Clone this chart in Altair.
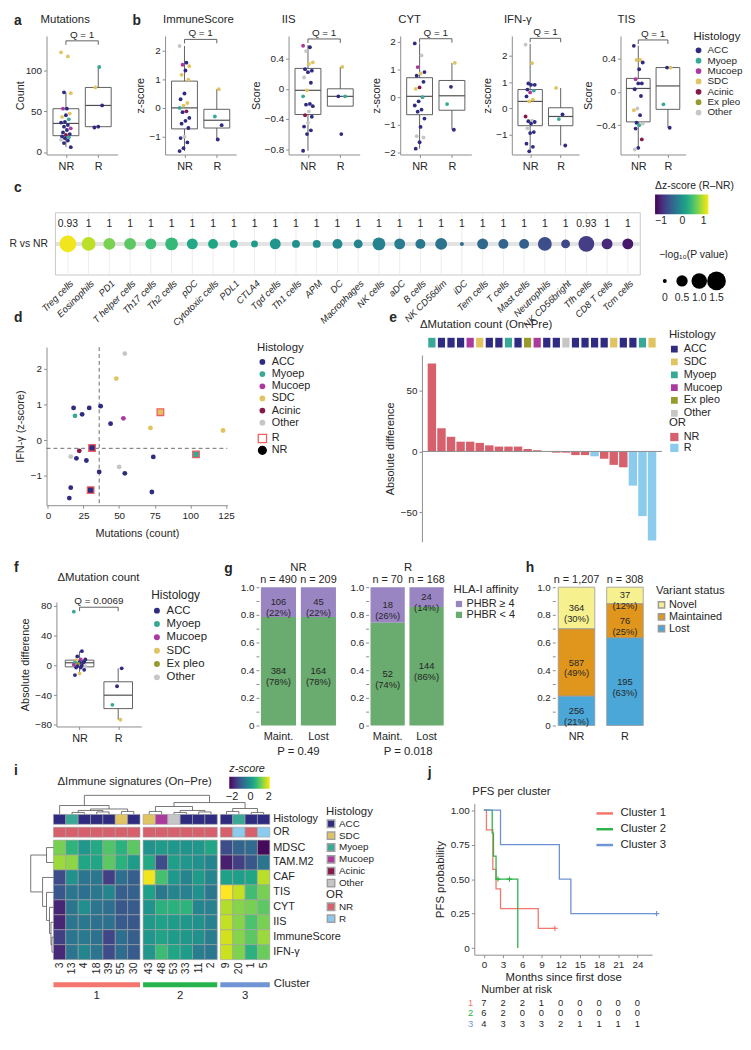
import altair as alt
import pandas as pd

FONT = "Liberation Sans"
INK = "#262626"
AXC = "#8c8c8c"
BOXC = "#4f4f4f"

HIST = ["ACC", "Myoep", "Mucoep", "SDC", "Acinic", "Ex pleo", "Other"]
HIST_COLORS = ["#2e2b80", "#3aa897", "#ab3a9e", "#e1c462", "#86194b", "#979a2d", "#c6c6c6"]
OR_CATS = ["NR", "R"]
OR_COLORS = ["#d7606d", "#8acbee"]

# ---------------- panel a / b : values per group ----------------
MUT_NR = [122, 117, 73, 72, 53, 53, 47, 45, 43, 40, 37, 36, 33, 31, 29, 27, 24, 22, 21, 19, 18, 17, 15, 14, 11, 6]
MUT_NR_H = ["SDC", "SDC", "ACC", "SDC", "ACC", "Mucoep", "SDC", "ACC", "SDC", "Myoep", "ACC", "ACC", "ACC", "ACC",
            "Mucoep", "ACC", "ACC", "ACC", "Acinic", "ACC", "Myoep", "ACC", "Other", "ACC", "ACC", "ACC"]
MUT_R = [104, 79, 57, 31, 30]
MUT_R_H = ["Myoep", "SDC", "ACC", "ACC", "ACC"]
MUT_BOX_NR = [6, 20, 35, 53, 73]
MUT_BOX_R = [30, 31, 57, 79, 104]

IMM_NR = [2.15, 1.57, 1.5, 1.45, 1.3, 1.15, 0.98, 0.5, 0.3, 0.17, 0.08, 0.0, -0.12, -0.15, -0.35, -0.45, -0.55, -0.7,
          -1.0, -1.05, -1.2, -1.4, -1.5]
IMM_NR_H = ["Other", "ACC", "Mucoep", "SDC", "ACC", "SDC", "SDC", "ACC", "ACC", "SDC", "SDC", "Myoep", "Acinic", "ACC",
            "ACC", "ACC", "ACC", "ACC", "Other", "ACC", "ACC", "ACC", "ACC"]
IMM_R = [0.65, -0.3, -0.6, -1.1]
IMM_R_H = ["SDC", "Myoep", "ACC", "ACC"]
IMM_BOX_NR = [-1.5, -0.73, 0.0, 0.93, 2.15]
IMM_BOX_R = [-1.1, -0.7, -0.43, -0.05, 0.65]

IIS_NR = [0.57, 0.55, 0.5, 0.35, 0.33, 0.26, 0.24, 0.22, 0.15, 0.08, -0.02, -0.1, -0.2, -0.21, -0.23, -0.3, -0.35,
          -0.37, -0.45, -0.5, -0.55, -0.6, -0.82]
IIS_NR_H = ["Mucoep", "ACC", "Other", "SDC", "SDC", "ACC", "ACC", "ACC", "Other", "ACC", "SDC", "Myoep", "ACC", "ACC",
            "ACC", "Other", "Acinic", "ACC", "Other", "ACC", "ACC", "ACC", "ACC"]
IIS_R = [0.29, -0.1, -0.1, -0.6]
IIS_R_H = ["SDC", "ACC", "Myoep", "ACC"]
IIS_BOX_NR = [-0.82, -0.34, -0.02, 0.27, 0.58]
IIS_BOX_R = [-0.23, -0.23, -0.1, 0.0, 0.29]

CYT_NR = [1.93, 1.5, 1.08, 0.9, 0.85, 0.77, 0.55, 0.35, 0.3, 0.0, -0.15, -0.3, -0.45, -0.52, -0.77, -1.07, -1.4, -1.45,
          -1.62, -1.85]
CYT_NR_H = ["ACC", "Other", "Mucoep", "ACC", "SDC", "ACC", "ACC", "Acinic", "SDC", "Myoep", "ACC", "ACC", "ACC", "ACC",
            "ACC", "ACC", "Other", "Other", "ACC", "ACC"]
CYT_R = [1.23, 0.37, -0.25, -1.17]
CYT_R_H = ["SDC", "ACC", "Myoep", "ACC"]
CYT_BOX_NR = [-1.85, -0.63, 0.03, 0.7, 1.93]
CYT_BOX_R = [-1.17, -0.47, 0.05, 0.6, 1.23]

IFN_NR = [2.42, 1.72, 0.95, 0.9, 0.9, 0.72, 0.68, 0.61, 0.46, 0.34, 0.27, -0.3, -0.46, -0.48, -0.51, -0.57, -0.75,
          -0.89, -0.93, -1.33, -1.45, -1.62]
IFN_NR_H = ["Other", "SDC", "ACC", "ACC", "ACC", "ACC", "Myoep", "Mucoep", "ACC", "SDC", "SDC", "Acinic", "Other", "ACC",
            "ACC", "ACC", "Other", "ACC", "ACC", "ACC", "ACC", "ACC"]
IFN_R = [0.78, -0.22, -0.4, -1.4]
IFN_R_H = ["SDC", "ACC", "Myoep", "ACC"]
IFN_BOX_NR = [-1.62, -0.65, 0.27, 0.72, 2.45]
IFN_BOX_R = [-1.4, -0.65, -0.3, 0.03, 0.78]

TIS_NR = [0.55, 0.38, 0.38, 0.35, 0.27, 0.15, 0.1, 0.1, 0.03, -0.05, -0.2, -0.22, -0.28, -0.37, -0.38, -0.4, -0.44,
          -0.57, -0.67, -0.69]
TIS_NR_H = ["ACC", "SDC", "SDC", "ACC", "ACC", "Mucoep", "ACC", "ACC", "ACC", "ACC", "Other", "SDC", "ACC", "ACC",
            "Other", "Myoep", "ACC", "Acinic", "ACC", "Other"]
TIS_R = [0.29, 0.29, -0.15, -0.43]
TIS_R_H = ["SDC", "ACC", "Myoep", "ACC"]
TIS_BOX_NR = [-0.69, -0.36, 0.04, 0.16, 0.55]
TIS_BOX_R = [-0.43, -0.21, 0.07, 0.29, 0.29]

# ---------------- panel c ----------------
C_CELLS = ["Treg cells", "Eosinophils", "PD1", "T helper cells", "Th17 cells", "Th2 cells", "pDC", "Cytotoxic cells",
           "PDL1", "CTLA4", "Tgd cells", "Th1 cells", "APM", "DC", "Macrophages", "NK cells", "aDC", "B cells",
           "NK CD56dim", "iDC", "Tem cells", "T cells", "Mast cells", "Neutrophils", "NK CD56bright", "Tfh cells",
           "CD8 T cells", "Tcm cells"]
C_DZ = [1.18, 0.98, 0.73, 0.6, 0.45, 0.4, 0.23, 0.2, 0.13, 0.1, 0.03, -0.03, -0.05, -0.1, -0.15, -0.18, -0.23, -0.28,
        -0.33, -0.38, -0.43, -0.48, -0.53, -0.7, -0.75, -0.83, -0.98, -1.13]
C_NLP = [1.19, 0.78, 0.56, 0.56, 0.46, 0.66, 0.46, 0.37, 0.21, 0.14, 0.46, 0.21, 0.21, 0.37, 0.28, 0.66, 0.46, 0.37,
         0.56, 0.0, 0.46, 0.37, 0.37, 0.78, 0.28, 1.04, 0.46, 0.46]
C_Q = ["0.93"] + ["1"] * 24 + ["0.93", "1", "1"]
SIZE_LEGEND = [0, 0.5, 1.0, 1.5]

# ---------------- panel d ----------------
D_MUT = [18, 24, 29, 37, 44, 20, 27, 36, 16, 15, 54, 73, 74, 19, 53, 48, 72, 123, 22, 54, 16, 50, 31, 30, 79, 104]
D_IFN = [0.9, 0.72, 0.9, 0.95, 0.46, -0.51, -0.57, -0.89, -1.33, -1.62, -0.93, -1.45, -0.47, 0.68, 0.61, 1.72, 0.34,
         0.27, -0.3, 2.42, -0.46, -0.75, -0.22, -1.4, 0.78, -0.4]
D_HIST = ["ACC"] * 13 + ["Myoep", "Mucoep", "SDC", "SDC", "SDC", "Acinic", "Other", "Other", "Other", "ACC", "ACC",
                         "SDC", "Myoep"]
D_OR = ["NR"] * 22 + ["R"] * 4
D_CUT_X = 36
D_CUT_Y = -0.23

# ---------------- panel e / f ----------------
E_VAL = [72, 19, 12, 8, 8, 7, 5, 4, 4, 4, 2, 1, 0, -1, -1, -3, -3, -4, -6, -11, -13, -28, -53, -73]
E_OR = ["NR"] * 17 + ["R"] + ["NR"] * 3 + ["R"] * 3
E_HIST = ["Myoep", "ACC", "ACC", "ACC", "Mucoep", "SDC", "ACC", "ACC", "Myoep", "ACC", "Ex pleo", "Mucoep", "ACC",
          "ACC", "Other", "ACC", "ACC", "ACC", "ACC", "SDC", "ACC", "ACC", "Myoep", "SDC"]
F_BOX_NR = [-13, -2, 3.5, 7, 19]
F_BOX_R = [-73, -58, -40, -22, -4]

# ---------------- panel g / h ----------------
G_GROUP = ["NR", "NR", "R", "R"]
G_STATUS = ["Maint.", "Lost", "Maint.", "Lost"]
G_CLASSES = ["PHBR ≥ 4", "PHBR < 4"]
G_HIGH = [106, 45, 18, 24]
G_LOW = [384, 164, 52, 144]
G_P = ["P = 0.49", "P = 0.018"]
H_CLASSES = ["Novel", "Maintained", "Lost"]
H_NR = [364, 587, 256]
H_R = [37, 76, 195]

# ---------------- panel i ----------------
I_COLS = ["3", "13", "4", "18", "39", "55", "30", "43", "48", "53", "33", "11", "2", "9", "20", "1", "5"]
I_CLUSTER = [1] * 7 + [2] * 6 + [3] * 4
I_HIST = ["ACC", "Myoep", "ACC", "ACC", "ACC", "SDC", "ACC", "SDC", "Mucoep", "Other", "ACC", "ACC", "ACC", "ACC",
          "Myoep", "ACC", "ACC"]
I_OR = ["NR"] * 13 + ["NR", "R", "NR", "R"]
I_ROWS = ["MDSC", "TAM.M2", "CAF", "TIS", "CYT", "IIS", "ImmuneScore", "IFN-γ"]
I_Z = {
    "MDSC": [1.2, 0.55, 0.0, 0.35, 0.9, 0.5, 1.0, -0.05, 0.1, 0.05, -0.05, 0.0, 0.3, -1.3, -0.9, -0.8, -2.2],
    "TAM.M2": [1.45, 1.35, 0.3, 0.3, 1.0, 0.5, 0.1, 0.35, -1.3, 0.15, 0.0, -0.1, -0.3, -1.95, -1.5, -1.1, -0.6],
    "CAF": [-1.3, -0.1, -0.6, -0.55, -1.5, -0.7, -1.0, 2.0, 0.8, 0.07, -0.3, 0.1, -0.3, 0.2, 0.15, 0.3, 1.65],
    "TIS": [-1.1, -0.6, -0.7, -0.55, -0.3, -1.0, -0.95, 0.2, -0.55, -0.3, -0.4, -0.1, -0.55, 2.1, 1.7, 0.75, 1.2],
    "CYT": [-1.85, -0.6, -0.15, -0.6, -0.7, -1.1, -1.05, -0.05, 0.5, 0.5, 0.55, -0.3, -0.4, 1.6, 1.3, 1.2, 1.0],
    "IIS": [-1.85, -0.6, -0.55, -0.65, -0.65, -1.05, -1.1, 0.07, 0.2, 0.1, 0.05, -0.1, -0.4, 1.7, 1.3, 0.85, 1.2],
    "ImmuneScore": [-1.5, -0.6, -0.5, -0.65, -1.4, -0.7, -1.0, 0.0, 0.25, 0.1, 0.05, -0.1, -0.45, 1.8, 1.3, 1.0, 1.45],
    "IFN-γ": [-1.8, -0.6, -0.3, -0.6, -1.3, -0.75, -1.05, 0.0, 0.7, 0.3, 0.1, -0.45, -0.55, 1.75, 1.25, 0.5, 1.1],
}
# dendrogram merges: (child a, child b, height, new node)
I_COL_MERGES = [("13", "4", 2, "a1"), ("18", "39", 2.5, "a2"), ("a1", "a2", 4, "a3"), ("55", "30", 3, "a4"),
                ("a3", "a4", 5.5, "a5"), ("3", "a5", 9, "A"),
                ("43", "48", 3, "b1"), ("53", "33", 2, "b2"), ("11", "2", 2.5, "b3"), ("b2", "b3", 4, "b4"),
                ("b1", "b4", 8, "B"),
                ("9", "20", 3, "c1"), ("1", "5", 2, "c2"), ("c1", "c2", 6, "C"),
                ("B", "C", 12, "BC"), ("A", "BC", 19.3, "root")]
I_ROW_MERGES = [("ImmuneScore", "IFN-γ", 1.5, "r1"), ("IIS", "r1", 2.5, "r2"), ("CYT", "r2", 4, "r3"),
                ("TIS", "r3", 7, "r4"), ("CAF", "r4", 11, "r5"), ("MDSC", "TAM.M2", 7, "r6"),
                ("r6", "r5", 23, "root")]
CL_NAMES = ["1", "2", "3"]
CL_COLORS = ["#f3776e", "#27b34b", "#7195d4"]

# ---------------- panel j ----------------
KM_NAMES = ["Cluster 1", "Cluster 2", "Cluster 3"]
KM_COLORS = ["#f4766d", "#2db34a", "#7092d2"]
KM1_T = [0, 0.4, 1.4, 1.9, 2.6, 8.5, 11.1]
KM1_S = [1, 0.857, 0.571, 0.429, 0.286, 0.143, 0.143]
KM2_T = [0, 1.3, 1.5, 1.9, 5.3]
KM2_S = [1, 0.833, 0.667, 0.5, 0.0]
KM3_T = [0, 2.6, 11.8, 13.6, 27.0]
KM3_S = [1, 0.75, 0.5, 0.25, 0.25]
CEN_T = [11.1, 2.2, 4.0, 27.0]
CEN_S = [0.143, 0.5, 0.5, 0.25]
CEN_CL = ["Cluster 1", "Cluster 2", "Cluster 2", "Cluster 3"]
RISK_T = [0, 3, 6, 9, 12, 15, 18, 21, 24]
RISK_1 = [7, 2, 2, 1, 0, 0, 0, 0, 0]
RISK_2 = [6, 2, 0, 0, 0, 0, 0, 0, 0]
RISK_3 = [4, 3, 3, 3, 2, 1, 1, 1, 1]

# =====================================================================
# One canvas; every panel is a layer with its own scales whose pixel ranges place it.
O = 8             # page margin
W, H = 700, 1000  # reference frame for axis offsets (kept inside the content)
ONE = pd.DataFrame({"k": [0]})


def XR(x, w):
    return [x - O, x + w - O]


def YR(y, h):       # continuous: bottom -> top
    return [y + h - O, y - O]


def YB(y, h):       # band / top -> bottom
    return [y - O, y + h - O]


def offL(x):
    return -(x - O)


def offB(y, h):
    return (y + h - O) - H


def offR(x, w):
    return (x + w - O) - W


def PX(v):
    return alt.value(v - O)


def T(s, px, py, size=10, weight="normal", align="left", baseline="middle", color=INK, style="normal"):
    return alt.Chart(ONE).mark_text(text=s, fontSize=size, fontWeight=weight, align=align, baseline=baseline,
                                    color=color, font=FONT, fontStyle=style).encode(x=PX(px), y=PX(py))


def LET(s, px, py):
    return T(s, px, py, size=14, weight="bold", baseline="top")


def hist_scale():
    return alt.Scale(domain=HIST, range=HIST_COLORS)


def leg(title, px, py, **kw):
    base = dict(orient="none", legendX=px - O, legendY=py - O, title=title, titleFontSize=11, labelFontSize=10.5,
                titlePadding=3, labelOffset=4)
    base.update(kw)
    return alt.Legend(**base)


def box_panel(x, y, w, h, nr, nr_h, r, r_h, st_nr, st_r, domain, ticks, ytitle, qy, qlab, legend=None, half=0.4,
              tpad=3):
    pts = pd.DataFrame({"grp": ["NR"] * len(nr) + ["R"] * len(r), "v": list(nr) + list(r),
                        "h": list(nr_h) + list(r_h)})
    pts["i"] = list(range(len(pts)))
    st = pd.DataFrame({"grp": ["NR", "R"], "lo": [st_nr[0], st_r[0]], "q1": [st_nr[1], st_r[1]],
                       "med": [st_nr[2], st_r[2]], "q3": [st_nr[3], st_r[3]], "hi": [st_nr[4], st_r[4]]})
    xs = alt.Scale(domain=[0.4, 2.6], range=XR(x, w), nice=False, zero=False)
    ys = alt.Scale(domain=domain, range=YR(y, h), nice=False, zero=False)
    xax = alt.Axis(values=[1, 2], labelExpr="datum.value == 1 ? 'NR' : 'R'", title=None, labelFontSize=11,
                   labelPadding=3, orient="bottom", offset=offB(y, h))
    yax = alt.Axis(values=ticks, format="~r", title=ytitle, titlePadding=tpad, titleFontSize=11, orient="left",
                   offset=offL(x))

    def X(f):
        return alt.X(f, scale=xs, axis=xax)

    def Y(f):
        return alt.Y(f, scale=ys, axis=yax)

    sb = alt.Chart(st).transform_calculate(pos="datum.grp == 'NR' ? 1 : 2").transform_calculate(
        x0="datum.pos - %g" % half, x1="datum.pos + %g" % half)
    whisk = sb.mark_rule(color=BOXC, strokeWidth=0.9).encode(x=X("pos:Q"), y=Y("lo:Q"), y2="hi:Q")
    box = sb.mark_rect(fill="white", stroke=BOXC, strokeWidth=0.9).encode(x=X("x0:Q"), x2="x1:Q", y=Y("q1:Q"),
                                                                         y2="q3:Q")
    med = sb.mark_rule(color=BOXC, strokeWidth=1.2).encode(x=X("x0:Q"), x2="x1:Q", y=Y("med:Q"))
    dots = alt.Chart(pts).transform_calculate(
        xj="(datum.grp == 'NR' ? 1 : 2) + ((datum.i * 7) % 11 - 5) * 0.03").mark_circle(size=15, opacity=1).encode(
        x=X("xj:Q"), y=Y("v:Q"), color=alt.Color("h:N", scale=hist_scale(), legend=legend))
    legl = 4.0 * (domain[1] - domain[0]) / h
    bk = pd.DataFrame({"a": [1.0], "b": [2.0], "y": [qy], "y2": [qy - legl], "t": [qlab]})
    bb = alt.Chart(bk)
    brk = bb.mark_rule(color=BOXC, strokeWidth=0.9).encode(x=X("a:Q"), x2="b:Q", y=Y("y:Q"))
    l1 = bb.mark_rule(color=BOXC, strokeWidth=0.9).encode(x=X("a:Q"), y=Y("y:Q"), y2="y2:Q")
    l2 = bb.mark_rule(color=BOXC, strokeWidth=0.9).encode(x=X("b:Q"), y=Y("y:Q"), y2="y2:Q")
    qt = bb.transform_calculate(m="(datum.a + datum.b) / 2").mark_text(dy=-6, fontSize=10, color=INK).encode(
        x=X("m:Q"), y=Y("y:Q"), text="t:N")
    return alt.layer(whisk, box, med, dots, brk, l1, l2, qt)


PANELS = []
NOTES = []

# ======================= ROW 1 =======================
R1Y, R1H = 30, 120
TTY = 14
PA = (42, 72)
PANELS.append(box_panel(PA[0], R1Y, PA[1], R1H, MUT_NR, MUT_NR_H, MUT_R, MUT_R_H, MUT_BOX_NR, MUT_BOX_R, [-3, 142],
                        [0, 50, 100], "Count", 136, "Q = 1", tpad=0))
NOTES += [LET("a", 9, 8), T("Mutations", 36, TTY, size=11.5), LET("b", 129, 8)]
PB = [(162, 72), (287, 72), (400, 72), (513, 68), (623, 66)]
b_specs = [
    ("ImmuneScore", "z-score", IMM_NR, IMM_NR_H, IMM_R, IMM_R_H, IMM_BOX_NR, IMM_BOX_R, [-1.62, 2.5], [-1, 0, 1, 2],
     2.38),
    ("IIS", "Score", IIS_NR, IIS_NR_H, IIS_R, IIS_R_H, IIS_BOX_NR, IIS_BOX_R, [-0.87, 0.7], [-0.8, -0.4, 0, 0.4], 0.66),
    ("CYT", "z-score", CYT_NR, CYT_NR_H, CYT_R, CYT_R_H, CYT_BOX_NR, CYT_BOX_R, [-2.06, 2.2], [-2, -1, 0, 1, 2], 2.1),
    ("IFN-γ", "z-score", IFN_NR, IFN_NR_H, IFN_R, IFN_R_H, IFN_BOX_NR, IFN_BOX_R, [-1.74, 2.75], [-1, 0, 1, 2], 2.66),
    ("TIS", "Score", TIS_NR, TIS_NR_H, TIS_R, TIS_R_H, TIS_BOX_NR, TIS_BOX_R, [-0.75, 0.668], [-0.4, 0, 0.4], 0.62),
]
title_x = [160, 280, 398, 505, 620]
for k, (ttl, yt, nr, nrh, r, rh, bnr, br, dom, tk, qy) in enumerate(b_specs):
    ox, w = PB[k]
    lg = None
    if k == 4:
        lg = leg("Histology", 697, 25, symbolType="circle", symbolSize=34, rowPadding=0.5, labelFontSize=10,
                 titleFontSize=11.5)
    PANELS.append(box_panel(ox, R1Y, w, R1H, nr, nrh, r, rh, bnr, br, dom, tk, yt, qy, "Q = 1", legend=lg))
    NOTES.append(T(ttl, title_x[k], TTY, size=11.5))

# ======================= ROW 2 (c) =======================
CX, CY, CW, CH = 51, 209, 592, 63
cdf = pd.DataFrame({"cell": C_CELLS, "dz": C_DZ, "nlp": C_NLP, "q": C_Q})
cdf["lab"] = "R vs NR"
XC = alt.X("cell:N", scale=alt.Scale(type="point", padding=0.6, domain=C_CELLS, range=XR(CX, CW)),
           axis=alt.Axis(title=None, labelAngle=-45, labelFontStyle="italic", labelFontSize=9.5, ticks=False,
                         domain=False, labelPadding=3, orient="bottom", offset=offB(CY, CH)))
YC = alt.Y("lab:N", scale=alt.Scale(type="point", domain=["R vs NR"], range=YB(CY, CH), padding=0.5),
           axis=alt.Axis(title=None, ticks=False, domain=False, labelFontSize=10.5, labelPadding=8, orient="left",
                         offset=offL(CX)))
cbase = alt.Chart(cdf)
c_frame = alt.Chart(ONE).mark_rect(fill="white", stroke="#c8c8c8", strokeWidth=1).encode(
    x=PX(CX), x2=PX(CX + CW), y=PX(CY), y2=PX(CY + CH))
c_grid = cbase.mark_rule(color="#ededed", strokeWidth=1).encode(x=XC, y=PX(CY + 1), y2=PX(CY + CH - 1))
c_band = cbase.mark_rule(color="#e3e3e3", strokeWidth=3).encode(y=YC, x=PX(CX + 1), x2=PX(CX + CW - 1))
c_dots = cbase.mark_circle(opacity=1).encode(
    x=XC, y=YC,
    color=alt.Color("dz:Q", scale=alt.Scale(scheme="viridis", domain=[-1.28, 1.23]),
                    legend=leg("Δz-score (R–NR)", 658, 177, direction="horizontal", gradientLength=54,
                               gradientThickness=20, values=[-1, 0, 1], titleFontSize=10.5, labelOffset=2)),
    size=alt.Size("nlp:Q", scale=alt.Scale(domain=[0, 1.5], range=[16, 361], zero=False), legend=None))
c_q = cbase.mark_text(dy=-20, fontSize=10.5, color=INK).encode(x=XC, y=YC, text="q:N")
PANELS.append(alt.layer(c_frame, c_grid, c_band, c_dots, c_q))
NOTES.append(LET("c", 9, 177))

sdf = pd.DataFrame({"v": SIZE_LEGEND})
SX = alt.X("v:O", scale=alt.Scale(type="point", padding=0.22, range=XR(664, 60)), axis=None)
s_dots = alt.Chart(sdf).mark_circle(color="black", opacity=1).encode(
    x=SX, y=PX(278), size=alt.Size("v:Q", scale=alt.Scale(domain=[0, 1.5], range=[16, 361], zero=False),
                                   legend=None))
s_txt = alt.Chart(sdf).transform_calculate(
    lab="datum.v == 0 ? '0' : format(datum.v, '.1f')").mark_text(fontSize=10.5, color=INK).encode(
    x=SX, y=PX(295), text="lab:N")
PANELS.append(alt.layer(s_dots, s_txt))
NOTES.append(T("−log₁₀(P value)", 662, 252, size=10.5))

# ======================= ROW 3 (d, e) =======================
DX, DY, DW, DH = 42, 345, 183, 160
ddf = pd.DataFrame({"m": D_MUT, "ifn": D_IFN, "h": D_HIST, "resp": D_OR})
dxs = alt.Scale(domain=[-1, 126], range=XR(DX, DW), nice=False, zero=False)
dys = alt.Scale(domain=[-1.82, 2.6], range=YR(DY, DH), nice=False, zero=False)
dxa = alt.Axis(values=[0, 25, 50, 75, 100, 125], title="Mutations (count)", titlePadding=8, titleFontSize=11,
               orient="bottom", offset=offB(DY, DH))
dya = alt.Axis(values=[-1, 0, 1, 2], title="IFN-γ (z-score)", titlePadding=5, titleFontSize=11, orient="left",
               offset=offL(DX))
DXE = alt.X("m:Q", scale=dxs, axis=dxa)
DYE = alt.Y("ifn:Q", scale=dys, axis=dya)
d_v = alt.Chart(ONE).mark_rule(color="#6e6e6e", strokeDash=[4, 3], strokeWidth=1).encode(
    x=alt.X(datum=D_CUT_X, scale=dxs, axis=dxa), y=PX(DY), y2=PX(DY + DH))
d_h = alt.Chart(ONE).mark_rule(color="#6e6e6e", strokeDash=[4, 3], strokeWidth=1).encode(
    y=alt.Y(datum=D_CUT_Y, scale=dys, axis=dya), x=PX(DX), x2=PX(DX + DW))
d_nr = alt.Chart(ddf).transform_filter("datum.resp == 'NR'").mark_point(filled=True, size=24, opacity=1).encode(
    x=DXE, y=DYE,
    color=alt.Color("h:N", scale=hist_scale(),
                    legend=leg("Histology", 255, 340, symbolType="circle", symbolSize=34, rowPadding=0.3,
                               labelFontSize=11, titleFontSize=11.5,
                               values=["ACC", "Myoep", "Mucoep", "SDC", "Acinic", "Other"])),
    shape=alt.Shape("resp:N", scale=alt.Scale(domain=["NR"], range=["circle"]),
                    legend=leg(None, 255, 444, symbolFillColor="black", symbolStrokeColor="black", symbolSize=60,
                               labelFontSize=11)))
d_r = alt.Chart(ddf).transform_filter("datum.resp == 'R'").mark_point(
    filled=True, size=44, opacity=1, stroke="#f0605d", strokeWidth=1.3).encode(
    x=DXE, y=DYE, fill=alt.Fill("h:N", scale=hist_scale(), legend=None),
    shape=alt.Shape("resp:N", scale=alt.Scale(domain=["R"], range=["square"]),
                    legend=leg(None, 255, 432, symbolFillColor="white", symbolStrokeColor="#f0605d",
                               symbolStrokeWidth=1.3, symbolSize=70, labelFontSize=11)))
PANELS.append(alt.layer(d_v, d_h, d_nr, d_r).resolve_scale(shape="independent"))
NOTES.append(LET("d", 9, 309))

EX, EY, EW, EBY, EBH = 422, 335, 243, 353, 189
edf = pd.DataFrame({"idx": list(range(len(E_VAL))), "val": E_VAL, "resp": E_OR, "h": E_HIST})
XE = alt.X("idx:O", scale=alt.Scale(paddingInner=0.12, paddingOuter=0.6, range=XR(EX, EW)), axis=None)
e_strip = alt.Chart(edf).mark_rect(stroke="white", strokeWidth=1.2).encode(
    x=XE, y=PX(EY), y2=PX(EY + 11),
    fill=alt.Fill("h:N", scale=hist_scale(),
                  legend=leg("Histology", 672, 327, symbolType="square", symbolSize=70, rowPadding=-3.5,
                             labelFontSize=11, titleFontSize=11.5,
                             values=["ACC", "SDC", "Myoep", "Mucoep", "Ex pleo", "Other"])))
PANELS.append(e_strip)
eys = alt.Scale(domain=[-74, 79], range=YR(EBY, EBH), nice=False, zero=False)
eya = alt.Axis(values=[-50, 0, 50], title="Absolute difference", titlePadding=5, titleFontSize=11, orient="left",
               offset=offL(EX))
e_bars = alt.Chart(edf).mark_bar().encode(
    x=XE, y=alt.Y("val:Q", scale=eys, axis=eya),
    color=alt.Color("resp:N", scale=alt.Scale(domain=OR_CATS, range=OR_COLORS),
                    legend=leg("OR", 672, 416, symbolType="square", symbolSize=70, rowPadding=-3.5,
                               labelFontSize=11, titleFontSize=11.5)))
e_zero = alt.Chart(ONE).mark_rule(color=AXC, strokeWidth=1).encode(
    y=alt.Y(datum=0, scale=eys, axis=eya), x=PX(EX), x2=PX(EX + EW))
PANELS.append(alt.layer(e_bars, e_zero))
NOTES += [LET("e", 389, 309), T("ΔMutation count (On−Pre)", 420, 323, size=11.5)]

# ======================= ROW 4 (f, g, h) =======================
FX, FY, FW, FH = 52, 603, 86, 126
F_NR = [v for v, o in zip(E_VAL, E_OR) if o == "NR"]
F_NR_H = [hh for hh, o in zip(E_HIST, E_OR) if o == "NR"]
F_R = [v for v, o in zip(E_VAL, E_OR) if o == "R"]
F_R_H = [hh for hh, o in zip(E_HIST, E_OR) if o == "R"]
f_leg = leg("Histology", 148, 591, symbolType="circle", symbolSize=36, rowPadding=0.5, labelFontSize=11.5,
            titleFontSize=12, values=["ACC", "Myoep", "Mucoep", "SDC", "Ex pleo", "Other"])
PANELS.append(box_panel(FX, FY, FW, FH, F_NR, F_NR_H, F_R, F_R_H, F_BOX_NR, F_BOX_R, [-82, 85],
                        [-80, -40, 0, 40, 80], "Absolute difference", 78, "Q = 0.0069", legend=f_leg, half=0.37,
                        tpad=4))
NOTES += [LET("f", 9, 562), T("ΔMutation count", 53, 579, size=11.5)]

GY, GH = 588, 140
Y01 = [round(i * 0.1, 1) for i in range(11)]
LAB01 = "(round(datum.value * 10) % 2 == 1) ? '' : (datum.value == 0 ? '0' : format(datum.value, '.1f'))"


def stack_panel(x, w, df, cats, classes, colors, ord_expr, legend, pin, pout, stroke=None):
    base = (alt.Chart(df)
            .transform_joinaggregate(tot="sum(n)", groupby=["status"])
            .transform_calculate(frac="datum.n / datum.tot", ord=ord_expr)
            .transform_stack(stack="frac", groupby=["status"], sort=[alt.SortField("ord", order="ascending")],
                             as_=["y0", "y1"])
            .transform_calculate(mid="(datum.y0 + datum.y1) / 2",
                                 lab="datum.n + '\\n(' + format(datum.frac, '.0%') + ')'",
                                 ntxt="'n = ' + format(datum.tot, ',')"))
    xsx = alt.Scale(domain=cats, paddingInner=pin, paddingOuter=pout, range=XR(x, w))
    xax = alt.Axis(title=None, ticks=False, domain=False, labelFontSize=11, labelPadding=5, labelAngle=0,
                   orient="bottom", offset=offB(GY, GH))
    ys = alt.Scale(domain=[0, 1], range=YR(GY, GH), nice=False, zero=False)
    yax = alt.Axis(values=Y01, labelExpr=LAB01, title=None, domain=False, labelPadding=2, orient="left",
                   offset=offL(x))
    X = alt.X("status:N", scale=xsx, axis=xax, sort=cats)
    mk = dict(stroke=stroke, strokeWidth=0.8) if stroke else {}
    bars = base.mark_bar(**mk).encode(
        x=X, y=alt.Y("y0:Q", scale=ys, axis=yax), y2="y1:Q",
        color=alt.Color("cls:N", scale=alt.Scale(domain=classes, range=colors), legend=legend))
    labs = base.mark_text(lineBreak="\n", fontSize=9.5, color=INK, lineHeight=11).encode(
        x=X, y=alt.Y("mid:Q", scale=ys, axis=yax), text="lab:N")
    ntx = base.transform_filter("datum.y1 > 0.999").mark_text(dy=-7, fontSize=11, color=INK).encode(
        x=X, y=alt.Y("y1:Q", scale=ys, axis=yax), text="ntxt:N")
    return alt.layer(bars, labs, ntx)


g_origins = [(257, 80), (368, 78)]
for k, grp in enumerate(["NR", "R"]):
    ox, w = g_origins[k]
    sel = [i for i, g in enumerate(G_GROUP) if g == grp]
    gdf = pd.DataFrame({"status": [G_STATUS[i] for i in sel] * 2,
                        "cls": [G_CLASSES[0]] * len(sel) + [G_CLASSES[1]] * len(sel),
                        "n": [G_HIGH[i] for i in sel] + [G_LOW[i] for i in sel]})
    lg = None
    if k == 1:
        lg = leg("HLA-I affinity", 454, 585, symbolType="square", symbolSize=40, rowPadding=-1, labelFontSize=11,
                 titleFontSize=11.5, labelOffset=2)
    PANELS.append(stack_panel(ox, w, gdf, ["Maint.", "Lost"], G_CLASSES, ["#9a85c3", "#6aab6f"],
                              "datum.cls == 'PHBR < 4' ? 0 : 1", lg, 0.12, 0.05))
    NOTES += [T(grp, ox + 40, 569, size=11.5, align="center"), T(G_P[k], ox + 40, 755, size=11.5, align="center")]
NOTES.append(LET("g", 222, 563))

HX, HW = 557, 92
hdf = pd.DataFrame({"status": ["NR"] * 3 + ["R"] * 3, "cls": H_CLASSES * 2, "n": H_NR + H_R})
h_leg = leg("Variant status", 659, 586, symbolType="square", symbolSize=40, rowPadding=-1.5, labelFontSize=11,
            titleFontSize=11.5, labelOffset=2)
PANELS.append(stack_panel(HX, HW, hdf, ["NR", "R"], H_CLASSES, ["#f6f08e", "#e0961d", "#4aa7d7"],
                          "datum.cls == 'Lost' ? 0 : (datum.cls == 'Maintained' ? 1 : 2)", h_leg, 0.245, 0.06,
                          stroke="#9a9a9a"))
NOTES.append(LET("h", 527, 562))

# ======================= ROW 5 (i) =======================
IX, IW = 49, 219
pos = [j + 0.25 * (c - 1) for j, c in enumerate(I_CLUSTER)]
XIS = alt.Scale(domain=[0, 17.5], range=XR(IX, IW), nice=False, zero=False)


def dendro(leaf_pos, merges):
    p = dict(leaf_pos)
    hg = {k: 0.0 for k in p}
    rows = []
    for a, b, hh, nm in merges:
        rows.append({"p1": p[a], "p2": p[a], "h1": hg[a], "h2": hh})
        rows.append({"p1": p[b], "p2": p[b], "h1": hg[b], "h2": hh})
        rows.append({"p1": p[a], "p2": p[b], "h1": hh, "h2": hh})
        p[nm] = (p[a] + p[b]) / 2
        hg[nm] = hh
    return pd.DataFrame(rows)


top_seg = dendro({c: pos[j] + 0.5 for j, c in enumerate(I_COLS)}, I_COL_MERGES)
PANELS.append(alt.Chart(top_seg).mark_rule(color="#555555", strokeWidth=0.8).encode(
    x=alt.X("p1:Q", scale=XIS, axis=None), x2="p2:Q",
    y=alt.Y("h1:Q", scale=alt.Scale(domain=[0, 20], range=YR(798, 20), nice=False), axis=None), y2="h2:Q"))
NOTES += [LET("i", 9, 767), T("ΔImmune signatures (On−Pre)", 53, 785, size=11.5)]

sdf_i = pd.DataFrame({"col": I_COLS, "h": I_HIST, "resp": I_OR, "x0": pos, "x1": [p + 1 for p in pos]})
sdf_i["lh"] = "Histology"
sdf_i["lo"] = "OR"


def rax():
    return alt.Axis(orient="right", title=None, ticks=False, domain=False, labelFontSize=11, labelPadding=3,
                    offset=offR(IX, IW))


PANELS.append(alt.Chart(sdf_i).mark_rect(stroke="#a0a0a0", strokeWidth=0.6).encode(
    x=alt.X("x0:Q", scale=XIS, axis=None), x2="x1:Q",
    y=alt.Y("lh:N", scale=alt.Scale(domain=["Histology"], range=YB(818, 10), paddingInner=0, paddingOuter=0),
            axis=rax()),
    fill=alt.Fill("h:N", scale=hist_scale(),
                  legend=leg("Histology", 325, 810, symbolType="square", symbolSize=56, rowPadding=-6.5,
                             labelFontSize=10, titleFontSize=11.5, labelOffset=3, titlePadding=1,
                             values=["ACC", "SDC", "Myoep", "Mucoep", "Acinic", "Other"]))))
PANELS.append(alt.Chart(sdf_i).mark_rect(stroke="#a0a0a0", strokeWidth=0.6).encode(
    x=alt.X("x0:Q", scale=XIS, axis=None), x2="x1:Q",
    y=alt.Y("lo:N", scale=alt.Scale(domain=["OR"], range=YB(831, 10), paddingInner=0, paddingOuter=0), axis=rax()),
    fill=alt.Fill("resp:N", scale=alt.Scale(domain=OR_CATS, range=OR_COLORS),
                  legend=leg("OR", 325, 894, symbolType="square", symbolSize=56, rowPadding=-6.5, labelFontSize=10,
                             titleFontSize=11.5, labelOffset=3, titlePadding=1))))
hm = pd.DataFrame([{"row": r, "col": I_COLS[j], "z": I_Z[r][j], "x0": pos[j], "x1": pos[j] + 1}
                   for r in I_ROWS for j in range(len(I_COLS))])
PANELS.append(alt.Chart(hm).mark_rect(stroke="#a0a0a0", strokeWidth=0.6).encode(
    x=alt.X("x0:Q", scale=XIS, axis=None), x2="x1:Q",
    y=alt.Y("row:N", scale=alt.Scale(domain=I_ROWS, range=YB(844, 121), paddingInner=0, paddingOuter=0),
            axis=rax()),
    color=alt.Color("z:Q", scale=alt.Scale(scheme="viridis", domain=[-2.3, 2.1]),
                    legend=leg("z-score", 227, 766, direction="horizontal", gradientLength=41, gradientThickness=12,
                               values=[-2, 0, 2], titleFontStyle="italic", labelFontSize=11, labelOffset=2))))
left_seg = dendro({r: k + 0.5 for k, r in enumerate(I_ROWS)}, I_ROW_MERGES)
PANELS.append(alt.Chart(left_seg).mark_rule(color="#555555", strokeWidth=0.8).encode(
    x=alt.X("h1:Q", scale=alt.Scale(domain=[24, 0], range=XR(25, 24), nice=False, zero=False), axis=None),
    x2="h2:Q",
    y=alt.Y("p1:Q", scale=alt.Scale(domain=[0, 8], range=YB(844, 121), nice=False, zero=False), axis=None),
    y2="p2:Q"))
lab_i = pd.DataFrame({"col": I_COLS, "xc": [p + 0.5 for p in pos]})
PANELS.append(alt.Chart(lab_i).mark_text(angle=270, align="right", baseline="middle", fontSize=10.5,
                                         color=INK).encode(
    x=alt.X("xc:Q", scale=XIS, axis=None), y=PX(968), text="col:N"))
cl_df = pd.DataFrame({"cl": CL_NAMES,
                      "x0": [min(p for p, c in zip(pos, I_CLUSTER) if c == k) for k in (1, 2, 3)],
                      "x1": [max(p for p, c in zip(pos, I_CLUSTER) if c == k) + 1 for k in (1, 2, 3)]})
i_cl = alt.Chart(cl_df).mark_rect().encode(
    x=alt.X("x0:Q", scale=XIS, axis=None), x2="x1:Q", y=PX(988), y2=PX(993),
    color=alt.Color("cl:N", scale=alt.Scale(domain=CL_NAMES, range=CL_COLORS), legend=None))
i_cl_t = alt.Chart(cl_df).transform_calculate(xm="(datum.x0 + datum.x1) / 2").mark_text(
    fontSize=11.5, color=INK, baseline="top").encode(x=alt.X("xm:Q", scale=XIS, axis=None), y=PX(996),
                                                     text="cl:N")
PANELS.append(alt.layer(i_cl, i_cl_t))
NOTES.append(T("Cluster", 272, 990, size=11.5))

# ======================= ROW 5 (j) =======================
JX, JY, JW, JH = 475, 807, 180, 153
kdf = pd.DataFrame({"t": KM1_T + KM2_T + KM3_T, "s": KM1_S + KM2_S + KM3_S,
                    "cl": [KM_NAMES[0]] * len(KM1_T) + [KM_NAMES[1]] * len(KM2_T) + [KM_NAMES[2]] * len(KM3_T)})
cen = pd.DataFrame({"t": CEN_T, "s": CEN_S, "cl": CEN_CL})
jxs = alt.Scale(domain=[-1.5, 26.3], range=XR(JX, JW), nice=False, zero=False)
jys = alt.Scale(domain=[-0.048, 1.048], range=YR(JY, JH), nice=False, zero=False)
jxa = alt.Axis(values=RISK_T, title="Months since first dose", titlePadding=2, titleFontSize=11.5, orient="bottom",
               offset=offB(JY, JH))
jya = alt.Axis(values=[0, 0.25, 0.5, 0.75, 1], labelExpr="datum.value == 0 ? '0' : format(datum.value, '.2f')",
               title="PFS probability", titlePadding=5, titleFontSize=11.5, orient="left", offset=offL(JX))
j_lines = alt.Chart(kdf).mark_line(interpolate="step-after", strokeWidth=1.3).encode(
    x=alt.X("t:Q", scale=jxs, axis=jxa), y=alt.Y("s:Q", scale=jys, axis=jya),
    color=alt.Color("cl:N", scale=alt.Scale(domain=KM_NAMES, range=KM_COLORS),
                    legend=leg(None, 597, 807, symbolType="stroke", symbolStrokeWidth=2.5, symbolSize=280,
                               labelFontSize=11.5, rowPadding=-3.5, labelOffset=6)))
j_cen = alt.Chart(cen).mark_point(shape="M-1,0L1,0M0,-1L0,1", size=30, strokeWidth=1.1, filled=False,
                                  opacity=1).encode(
    x=alt.X("t:Q", scale=jxs, axis=jxa), y=alt.Y("s:Q", scale=jys, axis=jya),
    stroke=alt.Stroke("cl:N", scale=alt.Scale(domain=KM_NAMES, range=KM_COLORS), legend=None))
PANELS.append(alt.layer(j_lines, j_cen))
NOTES += [LET("j", 428, 769), T("PFS per cluster", 473, 795, size=11.5)]

RKY, RKH = 1003, 33
rdf = pd.DataFrame({"t": RISK_T * 3, "n": RISK_1 + RISK_2 + RISK_3, "cl": ["1"] * 9 + ["2"] * 9 + ["3"] * 9})
rys = alt.Scale(domain=CL_NAMES, range=YB(RKY, RKH), paddingInner=0, paddingOuter=0)
rxs = alt.Scale(domain=[-1.5, 26.3], range=XR(JX, JW), nice=False, zero=False)
r_txt = alt.Chart(rdf).mark_text(fontSize=9.5, color=INK).encode(
    x=alt.X("t:Q", scale=rxs, axis=None), y=alt.Y("cl:N", scale=rys, axis=None), text="n:Q")
r_lab = alt.Chart(pd.DataFrame({"cl": CL_NAMES})).mark_text(fontSize=9.5, align="right").encode(
    x=PX(JX - 1), y=alt.Y("cl:N", scale=rys, axis=None), text="cl:N",
    color=alt.Color("cl:N", scale=alt.Scale(domain=CL_NAMES, range=KM_COLORS), legend=None))
PANELS.append(alt.layer(r_txt, r_lab))
NOTES.append(T("Number at risk", 482, 996, size=11))

# ======================= assemble =======================
chart = (alt.layer(*PANELS, *NOTES)
         .resolve_scale(x="independent", y="independent", color="independent", fill="independent",
                        stroke="independent", shape="independent", size="independent")
         .properties(width=W, height=H, padding=0)
         .configure(font=FONT)
         .configure_view(stroke=None)
         .configure_axis(labelFont=FONT, titleFont=FONT, labelFontSize=10, titleFontSize=11, labelColor=INK,
                         titleColor=INK, domainColor=AXC, tickColor=AXC, tickSize=3, grid=False,
                         titleFontWeight="normal", labelPadding=2, labelFlush=False)
         .configure_legend(labelFont=FONT, titleFont=FONT, labelColor=INK, titleColor=INK,
                           titleFontWeight="normal")
         .configure_text(font=FONT))

chart.save("out.html", embed_options={"renderer": "svg", "actions": False})
